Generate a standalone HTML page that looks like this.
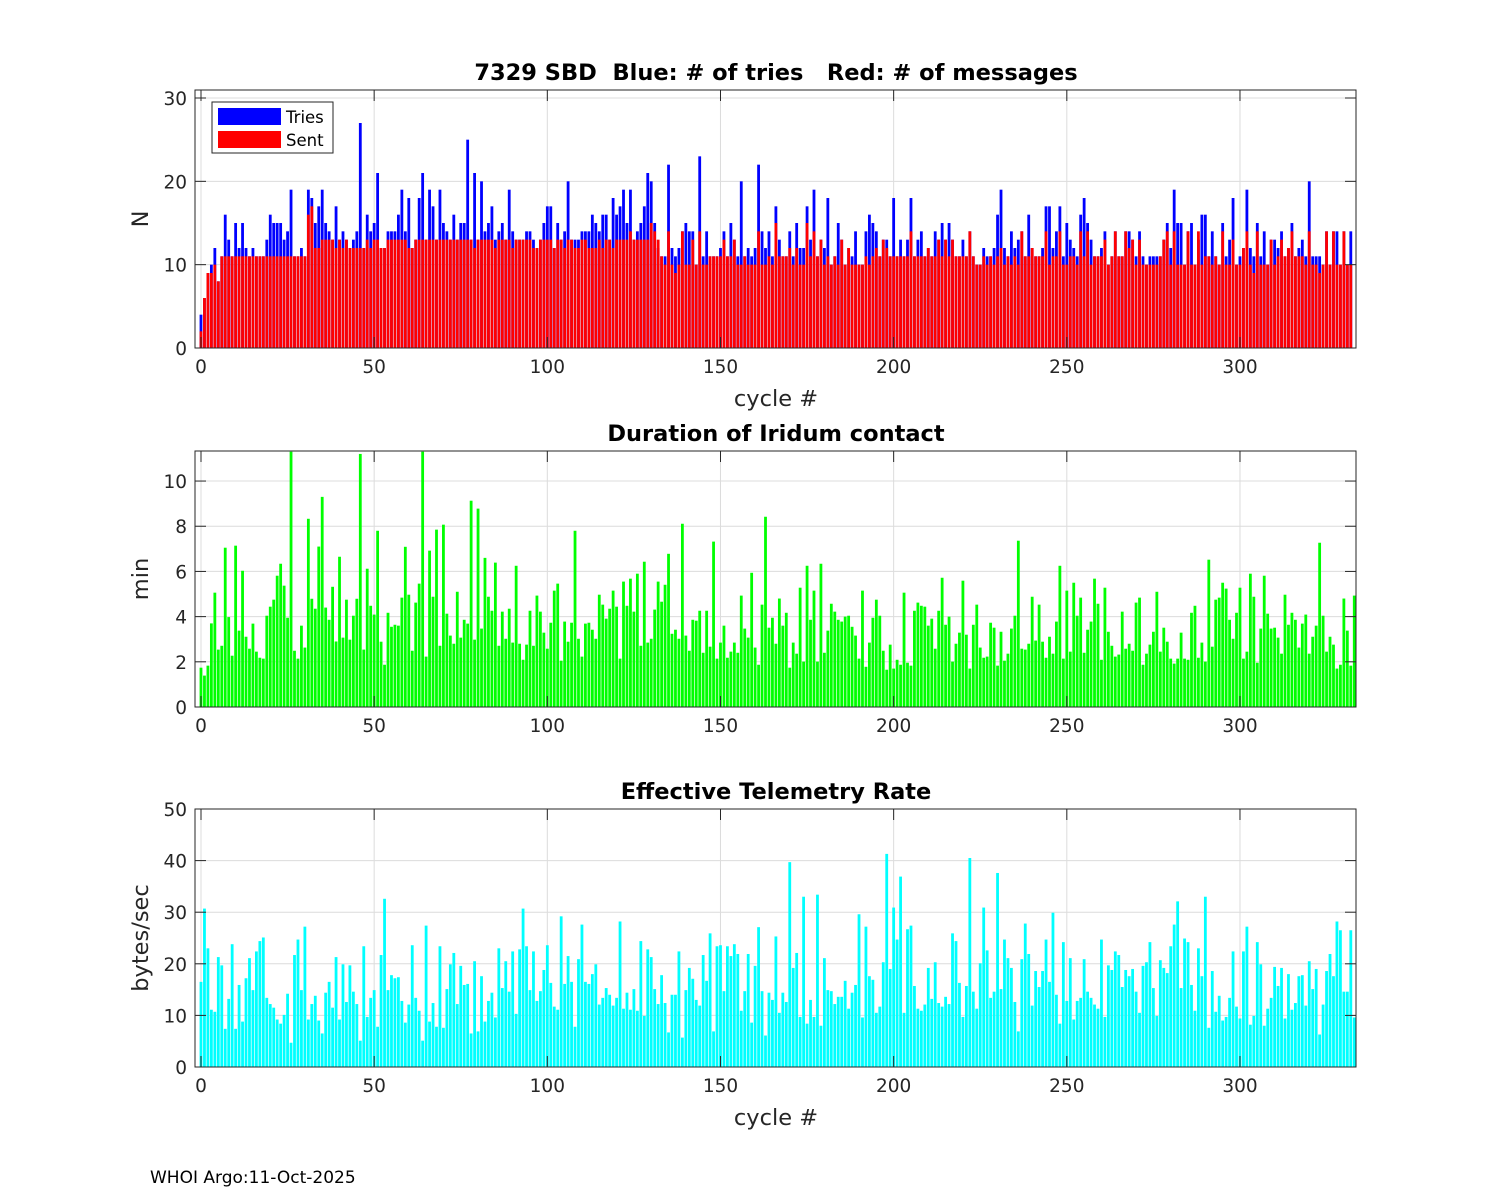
<!DOCTYPE html>
<html><head><meta charset="utf-8"><style>
body{margin:0;background:#fff;}
svg{display:block;font-family:"DejaVu Sans","Liberation Sans",sans-serif;}
</style></head><body>
<svg id="fig" width="1500" height="1200" viewBox="0 0 1500 1200"></svg>
<script>
const tries=[4,6,9,10,12,8,11,16,13,11,15,12,15,12,11,12,11,11,11,13,16,15,15,15,13,14,19,11,11,12,11,19,18,15,17,19,15,14,13,17,13,14,13,12,13,14,27,12,16,14,15,21,12,12,14,14,14,16,19,14,18,12,13,18,21,13,19,17,13,19,15,14,13,16,13,15,15,25,13,21,13,20,14,15,17,13,14,15,13,19,14,13,13,13,14,14,13,12,13,15,17,17,12,15,13,14,20,13,13,13,14,14,14,16,15,14,16,16,13,18,16,17,19,15,19,13,14,15,17,21,20,15,12,11,11,22,12,11,12,14,15,14,14,10,23,11,14,11,11,11,12,14,11,15,13,11,20,11,12,11,12,22,14,12,14,11,17,13,11,11,14,11,15,12,12,17,13,19,11,13,12,18,10,11,15,13,10,12,11,14,10,10,14,16,15,14,11,13,13,11,18,11,13,11,13,18,11,13,14,11,12,11,14,13,15,13,15,13,11,11,13,11,14,11,10,10,12,11,11,12,16,19,12,11,14,12,13,14,11,16,12,11,11,12,17,17,12,14,17,11,15,13,12,11,16,18,15,13,11,11,12,14,10,11,14,11,11,14,14,13,11,14,11,10,11,11,11,11,13,15,12,19,15,15,10,14,15,10,13,16,16,11,14,11,10,15,11,13,18,10,11,12,19,12,11,15,11,14,10,13,13,12,14,11,12,15,11,12,13,11,20,11,11,11,10,14,10,14,14,10,14,10,14];
const sent=[2,6,9,9,10,8,11,11,11,11,11,11,11,11,11,11,11,11,11,11,11,11,11,11,11,11,11,11,11,11,11,16,17,12,12,13,13,13,13,12,13,12,13,12,12,12,12,12,13,12,13,13,12,12,13,13,13,13,13,13,12,12,13,13,13,13,13,13,13,13,13,13,13,13,13,13,13,13,13,12,13,13,13,13,13,12,13,13,13,13,12,13,13,13,13,13,12,12,13,13,13,13,12,13,13,12,13,13,12,12,13,13,12,12,12,13,12,13,13,12,13,13,13,13,14,13,13,13,13,13,15,14,13,11,10,14,10,9,10,14,10,10,13,10,14,10,10,11,11,11,11,13,11,11,13,10,10,11,10,10,10,14,10,10,11,10,15,11,11,11,12,10,12,10,10,15,11,14,11,13,10,11,10,11,10,13,10,12,10,10,10,10,11,10,11,12,11,13,12,11,11,11,11,11,11,14,11,11,11,11,12,11,11,13,11,13,11,13,11,11,11,11,14,11,10,10,11,10,11,10,11,12,10,11,10,11,10,14,11,11,12,11,11,11,14,10,11,11,14,10,10,11,11,10,14,11,14,10,11,11,11,13,10,11,14,11,11,14,12,13,10,13,10,10,10,10,10,11,13,14,10,14,10,10,10,14,10,10,14,10,11,11,10,11,10,14,10,10,13,10,10,12,14,10,9,14,10,10,10,13,10,11,13,11,12,14,11,11,11,10,14,10,10,9,10,14,10,14,10,10,14,10,10];
const duration=[1.74,1.39,1.83,3.7,5.06,2.54,2.71,7.05,3.98,2.27,7.14,3.38,6.03,3.11,2.58,3.69,2.45,2.18,2.14,4.04,4.44,4.75,5.81,6.34,5.37,3.95,11.3,2.49,2.14,3.6,2.63,8.33,4.79,4.35,7.1,9.3,4.4,3.86,5.32,2.9,6.65,3.07,4.75,2.98,4.04,4.79,11.2,2.54,6.12,4.48,4.09,7.8,2.89,1.87,4.17,3.55,3.64,3.6,4.84,7.09,4.97,2.49,4.62,5.46,11.3,2.23,6.92,4.88,7.85,2.71,8.07,4.13,3.16,2.8,5.1,3.07,3.86,3.69,9.13,2.98,8.78,3.47,6.6,4.88,4.26,6.39,2.71,4.22,3.02,4.35,2.85,6.25,2.8,2.09,2.76,4.26,2.71,4.93,4.22,3.29,2.58,3.73,5.15,5.46,2.05,3.78,2.89,3.73,7.8,3.02,2.23,3.69,3.73,3.42,3.02,4.97,4.53,3.91,4.35,5.15,4.44,2.14,5.55,4.48,5.68,4.22,5.9,2.71,6.43,2.85,3.02,4.31,5.55,4.66,5.41,6.78,3.24,3.42,3.02,8.11,3.16,2.49,3.86,3.82,4.26,2.4,4.26,2.67,7.32,2.14,2.85,3.6,2.18,2.45,2.85,2.4,4.93,3.47,3.07,5.94,2.63,1.87,4.53,8.42,3.51,3.95,2.8,
4.8,3.6,4.17,1.74,2.85,2.36,5.28,2.01,6.25,3.86,5.15,2.01,6.34,2.4,3.38,4.57,4.22,3.86,3.78,4.0,4.04,3.55,3.16,2.14,5.15,1.78,2.85,3.95,4.75,4.04,2.49,1.65,2.76,1.7,2.09,1.87,5.06,1.96,1.83,4.26,4.62,4.48,4.44,3.6,3.91,2.58,4.26,5.72,3.64,4.0,2.01,2.8,3.29,5.59,3.2,1.7,3.64,4.53,2.63,2.18,2.23,3.73,3.51,1.83,3.33,2.05,2.36,3.47,4.04,7.36,2.58,2.54,2.8,4.88,2.94,4.53,2.89,2.18,3.11,2.36,3.78,6.25,2.14,5.15,2.45,5.5,4.04,4.84,2.4,3.42,3.78,5.68,4.57,2.09,5.28,3.33,2.71,2.23,2.32,4.22,2.58,2.8,2.49,4.62,4.84,1.87,2.36,2.76,3.33,5.1,2.45,3.51,2.89,2.14,1.92,2.14,3.29,2.14,2.09,4.17,4.48,2.18,2.85,2.01,6.52,2.67,4.75,4.84,5.5,5.24,3.86,3.02,4.17,5.28,2.14,2.45,5.9,4.88,1.96,3.47,5.81,4.13,3.47,3.51,3.07,2.36,4.97,3.64,4.17,3.86,2.63,3.69,4.09,2.36,3.11,3.6,7.27,4.04,2.45,3.11,2.76,1.7,1.87,4.8,3.38,1.83,4.93];
const rate=[16.5,30.7,23.0,11.1,10.7,21.3,19.7,7.4,13.2,23.8,7.4,15.9,8.8,17.2,21.1,14.9,22.4,24.4,25.1,13.4,12.2,11.5,9.2,8.4,10.1,14.2,4.7,21.7,24.7,14.9,27.2,9.2,12.2,13.8,9.0,6.5,14.4,16.5,11.5,21.3,9.2,19.9,12.6,19.7,14.6,12.2,5.1,23.4,9.7,13.4,14.9,7.8,21.7,32.6,14.9,17.8,17.2,17.4,12.8,8.6,12.1,23.6,13.4,10.9,5.1,27.4,8.8,12.4,7.8,23.4,7.6,15.1,19.9,22.1,12.2,19.6,15.9,16.1,6.5,20.5,6.9,17.6,8.8,12.8,14.4,9.6,23.0,15.3,20.5,14.6,22.4,10.3,22.8,30.7,23.4,14.9,22.4,12.8,14.7,18.8,23.6,16.3,11.7,11.1,29.2,16.1,21.5,16.5,7.8,20.9,27.6,16.5,16.1,18.0,19.9,12.1,13.4,15.3,14.0,11.9,13.4,28.2,11.3,14.4,11.1,15.1,10.9,24.4,9.9,22.8,21.3,15.1,12.2,17.8,12.4,6.7,14.0,14.0,22.4,5.7,14.9,19.2,17.1,13.0,11.9,21.7,16.7,25.9,6.9,23.4,23.6,14.7,23.4,21.5,23.8,21.9,10.9,14.7,21.9,8.6,19.6,27.1,14.7,6.1,14.4,13.0,
25.3,10.5,14.4,12.6,39.7,19.2,22.1,9.7,33.0,8.4,13.0,9.7,33.4,8.0,21.1,14.9,14.7,12.2,13.6,13.6,16.7,11.3,14.4,15.9,29.6,9.6,27.2,17.6,16.9,10.5,11.7,20.3,41.3,19.0,30.9,24.7,36.9,10.5,26.7,27.4,15.7,11.3,10.9,12.1,19.2,13.2,20.3,12.4,11.7,13.6,12.2,25.9,24.4,16.3,9.7,15.7,40.5,14.6,11.3,20.1,30.9,22.6,13.4,14.6,37.6,15.1,24.7,21.1,19.2,12.6,6.9,20.9,27.8,21.9,11.9,18.6,15.5,18.6,24.7,16.5,29.9,14.0,8.4,24.2,12.8,21.1,9.2,12.8,13.4,20.9,14.6,13.4,12.1,11.3,24.7,9.7,19.7,18.8,22.4,21.7,15.5,18.8,17.6,19.0,14.6,10.5,19.6,20.3,24.2,15.3,9.9,20.7,19.2,18.2,23.4,27.6,32.1,15.3,24.9,24.2,15.9,10.9,23.0,17.6,33.0,7.6,18.6,10.7,13.8,9.0,9.7,13.4,22.4,11.7,9.4,22.4,27.2,8.2,9.9,24.2,19.9,8.0,11.3,13.4,19.4,15.7,19.2,9.4,18.0,11.1,12.4,17.6,17.8,11.9,20.5,15.1,19.0,6.3,12.1,18.6,21.9,17.6,28.2,26.5,14.6,14.6,26.5,9.6];
const xTicks=[0,50,100,150,200,250,300];
const yTicks1=[0,10,20,30];
const yTicks2=[0,2,4,6,8,10];
const yTicks3=[0,10,20,30,40,50];

const NS='http://www.w3.org/2000/svg';
const svg=document.getElementById('fig');
function mk(tag,attrs,parent){const e=document.createElementNS(NS,tag);for(const k in attrs)e.setAttribute(k,attrs[k]);(parent||svg).appendChild(e);return e;}
const X0=195,X1=1356,XMIN=-1.73,XMAX=333.5;
function xs(v){return X0+(v-XMIN)/(XMAX-XMIN)*(X1-X0);}
const bw=2.8;

function panel(name,top,bot,ymax,yt,title,ylabel,xlabel,series){
  const g=mk('g',{});
  
  
  const ys=v=>bot-(v/ymax)*(bot-top);
  xTicks.forEach(t=>{const l=mk('line',{x1:xs(t),x2:xs(t),y1:top,y2:bot,stroke:'#dcdcdc','stroke-width':1},g);
    });
  yt.forEach(t=>{const l=mk('line',{x1:X0,x2:X1,y1:ys(t),y2:ys(t),stroke:'#dcdcdc','stroke-width':1},g);
    });
  series.forEach(s=>{
    s.data.forEach((v,i)=>{const h=Math.min(v,ymax);
      const r=mk('rect',{x:xs(i)-bw/2,y:ys(h),width:bw,height:bot-ys(h),fill:s.color},g);
      
      });
  });
  const b=mk('rect',{x:X0,y:top,width:X1-X0,height:bot-top,fill:'none',stroke:'#262626','stroke-width':1},g);
  
  xTicks.forEach(t=>{
    mk('line',{x1:xs(t),x2:xs(t),y1:bot,y2:bot-11,stroke:'#262626'},g);
    mk('line',{x1:xs(t),x2:xs(t),y1:top,y2:top+11,stroke:'#262626'},g);
    const tx=mk('text',{x:xs(t),y:bot+25,'text-anchor':'middle','font-size':18.5,fill:'#262626'},g);
    tx.textContent=t;
    
  });
  yt.forEach(t=>{
    mk('line',{x1:X0,x2:X0+11,y1:ys(t),y2:ys(t),stroke:'#262626'},g);
    mk('line',{x1:X1,x2:X1-11,y1:ys(t),y2:ys(t),stroke:'#262626'},g);
    const tx=mk('text',{x:X0-8,y:ys(t)+7,'text-anchor':'end','font-size':18.5,fill:'#262626'},g);
    tx.textContent=t;
    
  });
  const tt=mk('text',{x:776,y:top-10,'text-anchor':'middle','font-size':22.5,'font-weight':'bold',fill:'#000'},g);
  tt.textContent=title;
  tt.setAttribute('xml:space','preserve');tt.style.whiteSpace='pre';
  const yl=mk('text',{x:0,y:0,'text-anchor':'middle','font-size':22.5,fill:'#262626',transform:`translate(148,${(top+bot)/2}) rotate(-90)`},g);
  yl.textContent=ylabel;
  if(xlabel){const xl=mk('text',{x:776,y:bot+58,'text-anchor':'middle','font-size':22.5,fill:'#262626'},g);
    xl.textContent=xlabel;}
  return g;
}
panel('tries-panel',90,348,30.96,yTicks1,'7329 SBD  Blue: # of tries   Red: # of messages','N','cycle #',
  [{data:tries,color:'#0000ff',name:'tries-bar'},{data:sent,color:'#ff0000',name:'sent-bar'}]);
panel('duration-panel',451,707,11.33,yTicks2,'Duration of Iridum contact','min',null,
  [{data:duration,color:'#00ff00',name:'duration-bar'}]);
panel('rate-panel',809,1067,50,yTicks3,'Effective Telemetry Rate','bytes/sec','cycle #',
  [{data:rate,color:'#00ffff',name:'rate-bar'}]);

const lg=mk('g',{});


mk('rect',{x:212,y:102,width:121,height:51,fill:'#fff',stroke:'#262626'},lg);
const e1=mk('rect',{x:218,y:108,width:63,height:17,fill:'#0000ff'},lg);

const t1=mk('text',{x:286,y:123,'font-size':16.5,fill:'#000'},lg);t1.textContent='Tries';

const e2=mk('rect',{x:218,y:131,width:63,height:17,fill:'#ff0000'},lg);

const t2=mk('text',{x:286,y:146,'font-size':16.5,fill:'#000'},lg);t2.textContent='Sent';


const ft=mk('text',{x:150,y:1183,'font-size':17,fill:'#000'});
ft.textContent='WHOI Argo:11-Oct-2025';


</script>
</body></html>
